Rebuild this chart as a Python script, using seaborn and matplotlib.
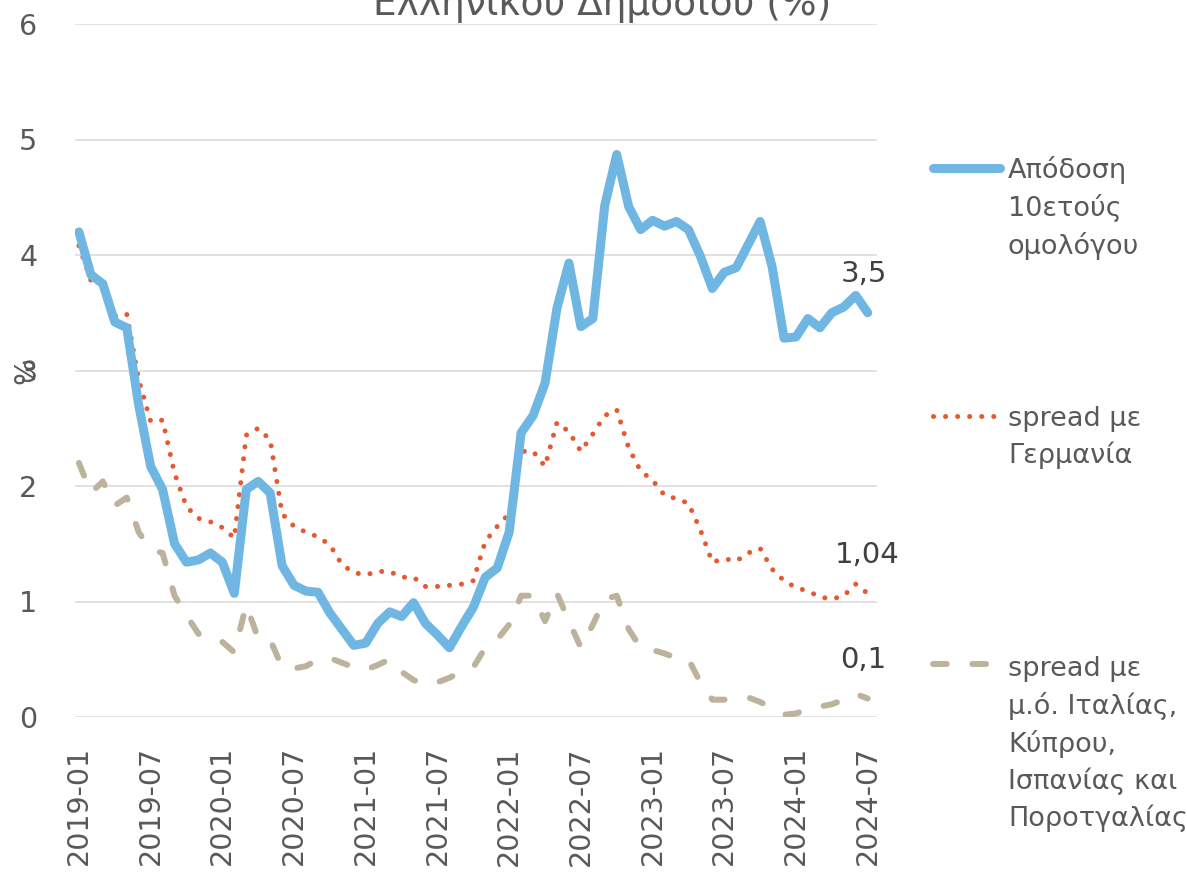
import numpy as np
import pandas as pd
import matplotlib
matplotlib.use("Agg")
import matplotlib.pyplot as plt
from matplotlib.lines import Line2D
import seaborn as sns

# ---------------- data ----------------
months = pd.period_range("2019-01", "2024-07", freq="M").strftime("%Y-%m").tolist()

yield_10y = [4.20, 3.83, 3.75, 3.42, 3.37, 2.70, 2.17, 1.97, 1.50, 1.34,
             1.36, 1.42, 1.34, 1.07, 1.97, 2.04, 1.94, 1.31, 1.14, 1.09,
             1.08, 0.90, 0.76, 0.62, 0.64, 0.81, 0.91, 0.87, 0.99, 0.81,
             0.71, 0.60, 0.78, 0.95, 1.21, 1.29, 1.60, 2.46, 2.61, 2.89,
             3.54, 3.93, 3.38, 3.45, 4.43, 4.87, 4.42, 4.22, 4.30, 4.25,
             4.29, 4.22, 3.99, 3.71, 3.85, 3.89, 4.09, 4.29, 3.90, 3.28,
             3.29, 3.45, 3.37, 3.50, 3.55, 3.65, 3.50]

spread_de = [4.08, 3.78, 3.75, 3.47, 3.49, 2.92, 2.56, 2.57, 2.11, 1.82,
             1.72, 1.69, 1.64, 1.55, 2.44, 2.50, 2.40, 1.76, 1.65, 1.60,
             1.56, 1.49, 1.32, 1.25, 1.23, 1.26, 1.26, 1.21, 1.21, 1.13,
             1.13, 1.14, 1.15, 1.18, 1.52, 1.65, 1.76, 2.30, 2.30, 2.17,
             2.55, 2.47, 2.30, 2.45, 2.61, 2.66, 2.33, 2.13, 2.05, 1.92,
             1.89, 1.85, 1.62, 1.34, 1.37, 1.35, 1.42, 1.46, 1.28, 1.18,
             1.12, 1.09, 1.04, 1.02, 1.05, 1.15, 1.07]

spread_south = [2.20, 1.94, 2.04, 1.83, 1.90, 1.60, 1.45, 1.42, 1.05, 0.88,
                0.72, 0.71, 0.65, 0.56, 0.97, 0.68, 0.67, 0.43, 0.42, 0.44,
                0.50, 0.51, 0.47, 0.43, 0.41, 0.45, 0.50, 0.39, 0.32, 0.28,
                0.30, 0.34, 0.39, 0.43, 0.60, 0.67, 0.80, 1.05, 1.05, 0.83,
                1.07, 0.83, 0.60, 0.80, 1.02, 1.05, 0.76, 0.60, 0.58, 0.55,
                0.51, 0.50, 0.30, 0.15, 0.15, 0.16, 0.17, 0.13, 0.08, 0.02,
                0.03, 0.07, 0.09, 0.11, 0.15, 0.20, 0.16]

series_labels = ["Απόδοση\n10ετούς\nομολόγου",
                 "spread με\nΓερμανία",
                 "spread με\nμ.ό. Ιταλίας,\nΚύπρου,\nΙσπανίας και\nΠοροτγαλίας"]
end_labels = ["3,5", "1,04", "0,1"]
title_text = "Ελληνικού Δημοσίου (%)"
y_ticks = [0, 1, 2, 3, 4, 5, 6]

# ---------------- style ----------------
sns.set_theme(style="white")
plt.rcParams["font.family"] = ["DejaVu Sans"]

GRAY = "#595959"
DARK = "#404040"
BLUE = "#70B6E3"
ORANGE = "#E6582F"
TAN = "#BDB39C"

W, H = 1187, 876
fig = plt.figure(figsize=(W / 100, H / 100), dpi=100)
ax = fig.add_axes([75 / W, 1 - 717 / H, (877 - 75) / W, (717 - 24) / H])

idx = np.arange(len(months))
df = pd.DataFrame({"i": idx, "y": yield_10y, "de": spread_de, "s": spread_south})

sns.lineplot(data=df, x="i", y="y", ax=ax, color=BLUE, lw=6.5,
             solid_capstyle="round", solid_joinstyle="round", zorder=3)
sns.lineplot(data=df, x="i", y="de", ax=ax, color=ORANGE, lw=3.6,
             linestyle=(0, (0.01, 2.4)), dash_capstyle="round", zorder=2)
sns.lineplot(data=df, x="i", y="s", ax=ax, color=TAN, lw=4.3,
             linestyle=(0, (2.3, 4.3)), dash_capstyle="round", zorder=1)

ax.set_xlim(-0.33, len(months) - 1 + 0.78)
ax.set_ylim(0, 6)
ax.set_yticks(y_ticks)
ax.set_yticklabels([str(t) for t in y_ticks])
xt = idx[::6]
ax.set_xticks(xt)
ax.set_xticklabels([months[i] for i in xt], rotation=90, ha="center", va="top")

ax.grid(axis="y", color="#D9D9D9", lw=1.1)
ax.grid(axis="x", visible=False)
for sp in ax.spines.values():
    sp.set_visible(False)
ax.tick_params(axis="both", length=0, labelsize=20.5, labelcolor=GRAY)
ax.tick_params(axis="y", pad=27)
ax.tick_params(axis="x", pad=21)
ax.set_xlabel("")
ax.set_ylabel("%", fontsize=20.5, color=GRAY, rotation=90)
ax.yaxis.set_label_coords(-0.043, 0.5)

# end-point data labels
last = idx[-1]
for val, lab, dx in zip([yield_10y[-1], spread_de[-1], spread_south[-1]], end_labels, [-3, 0, -3]):
    ax.annotate(lab, xy=(last, val), xytext=(dx, 28), textcoords="offset points",
                ha="center", va="center", fontsize=21, color=DARK,
                annotation_clip=False)

# title (top part cut off as in the reference)
fig.text(602 / W, 1 - 15 / H, title_text, ha="center", va="baseline",
         fontsize=27, color=GRAY)

# legend on the right
handles = [
    dict(color=BLUE, lw=6.5, ls="-", solid_capstyle="round"),
    dict(color=ORANGE, lw=3.6, ls=(0, (0.01, 2.4)), dash_capstyle="round"),
    dict(color=TAN, lw=4.3, ls=(0, (2.3, 4.3)), dash_capstyle="round"),
]
line_y = [168, 416, 664]
top_y = [156, 406, 656]
for h, ly, ty, lab in zip(handles, line_y, top_y, series_labels):
    fig.add_artist(Line2D([933 / W, 1000 / W], [1 - ly / H, 1 - ly / H],
                          transform=fig.transFigure, **h))
    fig.text(1008 / W, 1 - ty / H, lab, ha="left", va="top",
             fontsize=19.5, color=GRAY, linespacing=1.45)

fig.savefig("out.png", dpi=100)
